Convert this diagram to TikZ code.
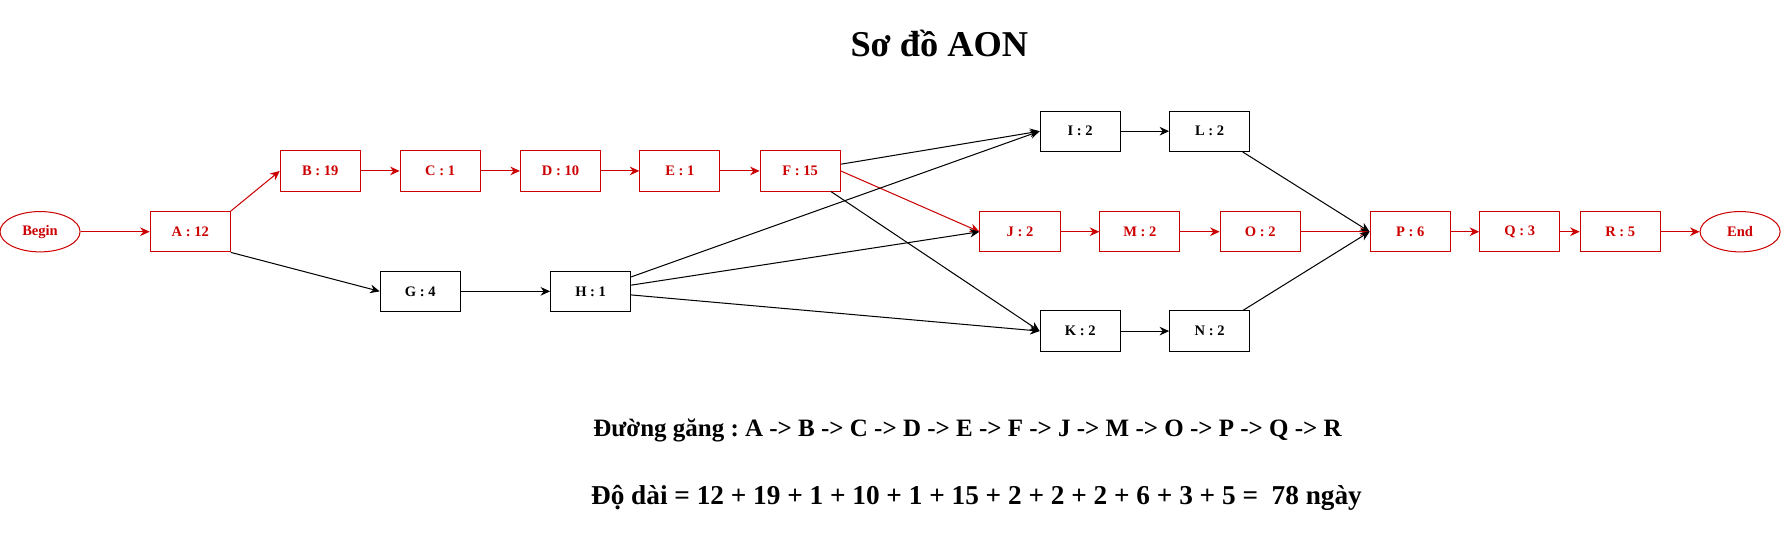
\documentclass[tikz,border=0pt]{standalone}
\usepackage{fontspec}
\setmainfont{Liberation Serif}
\usetikzlibrary{arrows.meta,shapes.geometric}
\definecolor{critred}{HTML}{CC0000}
\frenchspacing
\tikzset{
  task/.style={draw, rectangle, minimum width=35.25pt, minimum height=17.75pt, inner sep=0pt,
               font=\fontsize{6.4}{7}\selectfont\bfseries, line width=0.45pt},
  crit/.style={task, draw=critred, text=critred},
  term/.style={crit, ellipse},
  link/.style={->, line width=0.45pt},
  critlink/.style={link, critred},
}

\begin{document}
\begin{tikzpicture}[>={Stealth[length=4.2pt,width=3.8pt]}, x=0.5pt, y=-0.5pt]   % 1 unit = 1 px of the drawing
    \useasboundingbox (0,0) rectangle (1568,477);
    \node[anchor=base, font=\fontsize{16}{19}\selectfont\bfseries] (title) at (827,50) {Sơ đồ AON};

    % critical chain
    \node[term] (begin) at (35.25,204) {Begin};
    \node[crit] (A) at (167.5,204) {A : 12};
    \node[crit] (B) at (282,150.5) {B : 19};
    \node[crit] (C) at (387.5,150.5) {C : 1};
    \node[crit] (D) at (493.5,150.5) {D : 10};
    \node[crit] (E) at (598.5,150.5) {E : 1};
    \node[crit] (F) at (704.5,150.5) {F : 15};
    \node[crit] (J) at (898,204) {J : 2};
    \node[crit] (M) at (1003.5,204) {M : 2};
    \node[crit] (O) at (1109.5,204) {O : 2};
    \node[crit] (P) at (1241.5,204) {P : 6};
    \node[crit] (Q) at (1338,204) {Q : 3};
    \node[crit] (R) at (1426.5,204) {R : 5};
    \node[term] (end) at (1532,204) {End};
    % other tasks
    \node[task] (G) at (370,256.5) {G : 4};
    \node[task] (H) at (520,256.5) {H : 1};
    \node[task] (I) at (951,115.5) {I : 2};
    \node[task] (L) at (1065,115.5) {L : 2};
    \node[task] (K) at (951,291.5) {K : 2};
    \node[task] (N) at (1065,291.5) {N : 2};

    \draw[critlink] (begin) -- (A);
    \draw[critlink] (A.north east) -- (B.west);
    \foreach \a/\b in {B/C, C/D, D/E, E/F, J/M, M/O, O/P, P/Q, Q/R, R/end}
        \draw[critlink] (\a) -- (\b);
    \draw[critlink] (F.east) -- (J.west);

    \draw[link] (A.south east) -- (G.west);
    \foreach \a/\b in {G/H, I/L, K/N}
        \draw[link] (\a) -- (\b);
    \foreach \a/\b in {F/I, H/I, H/J, H/K, F/K, L/P, N/P}
        \draw[link] (\a) -- (\b.west);

    \node[anchor=base west, inner sep=0pt, font=\fontsize{11}{13}\selectfont\bfseries] (path) at (522,384)
        {Đường găng : A -> B -> C -> D -> E -> F -> J -> M -> O -> P -> Q -> R};
    \node[anchor=base west, inner sep=0pt, font=\fontsize{12}{14}\selectfont\bfseries] (length) at (520,444)
        {Độ dài = 12 + 19 + 1 + 10 + 1 + 15 + 2 + 2 + 2 + 6 + 3 + 5 = \ 78 ngày};
\end{tikzpicture}
\end{document}
